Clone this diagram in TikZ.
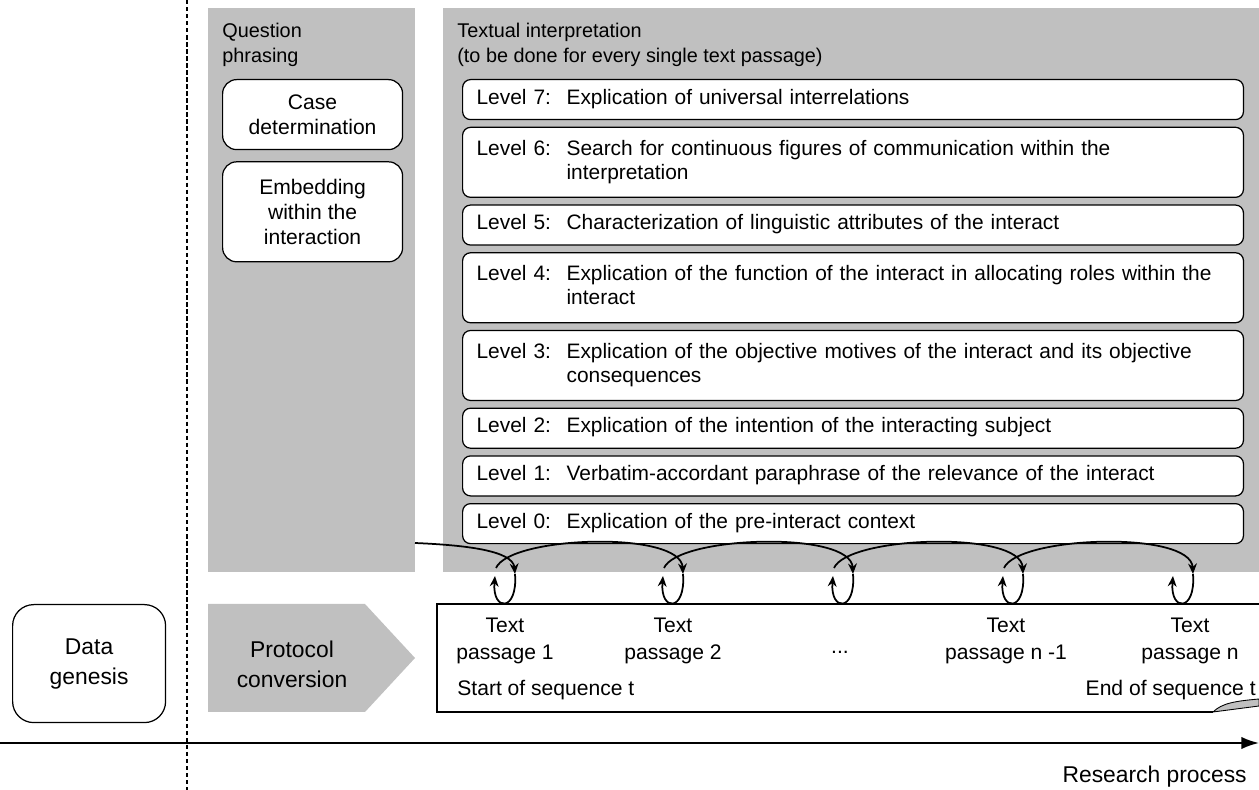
\documentclass[tikz,border=0pt]{standalone}
\usepackage{fontspec}
\setmainfont{Liberation Sans}
\usepackage{xcolor}
\usepackage{tikz}
\usetikzlibrary{arrows.meta,positioning}
\definecolor{colgray}{RGB}{192,192,192}
\newcommand{\lvl}[2]{\begin{tabular}{@{}p{1.8cm}@{}l@{}}Level #1: & #2\end{tabular}}

\begin{document}
\begin{tikzpicture}[x=0.02cm, y=-0.02cm,
  col/.style={fill=colgray, draw=none, inner sep=0pt, anchor=north west},
  hdr/.style={anchor=north west, inner sep=0pt, align=left, font=\fontsize{11.3}{14.2}\selectfont},
  rbox/.style={rectangle, draw, line width=0.7pt, fill=white, rounded corners=8pt,
    align=center, inner sep=0pt, font=\fontsize{12}{14.2}\selectfont},
  lvl/.style={rbox, rounded corners=4.5pt, minimum width=15.62cm, text width=15.06cm,
    inner xsep=0.28cm, align=left, minimum height=0.8cm, font=\fontsize{11.9}{13.6}\selectfont},
  big/.style={align=center, inner sep=0pt, font=\fontsize{13}{17}\selectfont},
  psg/.style={align=center, inner sep=0pt, font=\fontsize{12}{15.3}\selectfont},
  arr/.style={-{Stealth[length=6pt,width=5pt]}, line width=1pt}
]
\useasboundingbox (0,0) rectangle (1259,790);

% columns
\node[col, minimum width=4.14cm, minimum height=11.28cm] (QC) at (208,8) {};
\node[col, minimum width=16.32cm, minimum height=11.28cm] (TC) at (443,8) {};
\node[hdr] (QH) at (222,23) {Question\\phrasing};
\node[hdr] (TH) at (457,23) {Textual interpretation\\(to be done for every single text passage)};

\node[rbox, minimum width=3.6cm, minimum height=1.4cm, anchor=north west] (CD) at (222,79) {Case\\determination};
\node[rbox, minimum width=3.6cm, minimum height=2cm, below=0.22cm of CD] (EI) {Embedding\\within the\\interaction};

% levels
\node[lvl, anchor=north west] (L7) at (462,79) {\lvl{7}{Explication of universal interrelations}};
\node[lvl, below=0.13cm of L7, minimum height=1.4cm] (L6) {\lvl{6}{Search for continuous figures of communication within the\\ & interpretation}};
\node[lvl, below=0.13cm of L6] (L5) {\lvl{5}{Characterization of linguistic attributes of the interact}};
\node[lvl, below=0.13cm of L5, minimum height=1.4cm] (L4) {\lvl{4}{Explication of the function of the interact in allocating roles within the\\ & interact}};
\node[lvl, below=0.13cm of L4, minimum height=1.4cm] (L3) {\lvl{3}{Explication of the objective motives of the interact and its objective\\ & consequences}};
\node[lvl, below=0.13cm of L3] (L2) {\lvl{2}{Explication of the intention of the interacting subject}};
\node[lvl, below=0.13cm of L2] (L1) {\lvl{1}{Verbatim-accordant paraphrase of the relevance of the interact}};
\node[lvl, below=0.13cm of L1] (L0) {\lvl{0}{Explication of the pre-interact context}};

% bottom row
\node[rbox, big, rounded corners=12pt, minimum width=3.06cm, minimum height=2.36cm, anchor=north west] (DG) at (12,604) {Data\\genesis};
\fill[colgray] (208,604) -- (365,604) -- (415,658) -- (365,712) -- (208,712) -- cycle;
\node[big] (PC) at (292,664) {Protocol\\conversion};

\draw[line width=0.7pt] (1259,604) -- (437,604) -- (437,712) -- (1213,712);
\filldraw[fill=colgray, line width=0.5pt] (1213,712) .. controls (1222,703) and (1236,701) .. (1259,699) -- (1259,706) -- cycle;

\node[psg] (P1) at (505,641) {Text\\passage 1};
\node[psg] (P2) at (673,641) {Text\\passage 2};
\node[psg] (P3) at (840,652) {...};
\node[psg] (P4) at (1006,641) {Text\\passage n -1};
\node[psg] (P5) at (1190,641) {Text\\passage n};
\node[psg, anchor=west] (ST) at (457,690) {Start of sequence t};
\node[psg, anchor=east] (ET) at (1256,690) {End of sequence t};

% loops and arcs
\foreach \x [count=\i] in {505,673,843,1013,1183}
  \coordinate (t\i) at (\x,604);
\foreach \i in {1,...,5}
  \draw[arr] ([shift={(10,-30)}]t\i) .. controls ([shift={(13,8)}]t\i) and ([shift={(-13,8)}]t\i) .. ([shift={(-10,-28)}]t\i);
\foreach \a/\b in {t1/t2,t2/t3,t3/t4,t4/t5}
  \draw[arr] ([shift={(-9,-36)}]\a) .. controls ([shift={(5,-68)}]\a) and ([shift={(8,-74)}]\b) .. ([shift={(10,-30)}]\b);
\coordinate (qo) at (415,543);
\draw[arr] (qo) .. controls (462,545) and (513,550) .. ([shift={(10,-30)}]t1);

% axis
\coordinate (d0) at (187,0);
\coordinate (d1) at (187,790);
\draw[line width=1.1pt, dash pattern=on 2.5pt off 1.5pt] (d0) -- (d1);
\coordinate (ax0) at (0,743);
\coordinate (ax1) at (1259,743);
\draw[-{Latex[length=10pt,width=7pt]}, line width=1.1pt] (ax0) -- (ax1);
\node[big, anchor=east] (RP) at (1247,777) {Research process};
\end{tikzpicture}
\end{document}
